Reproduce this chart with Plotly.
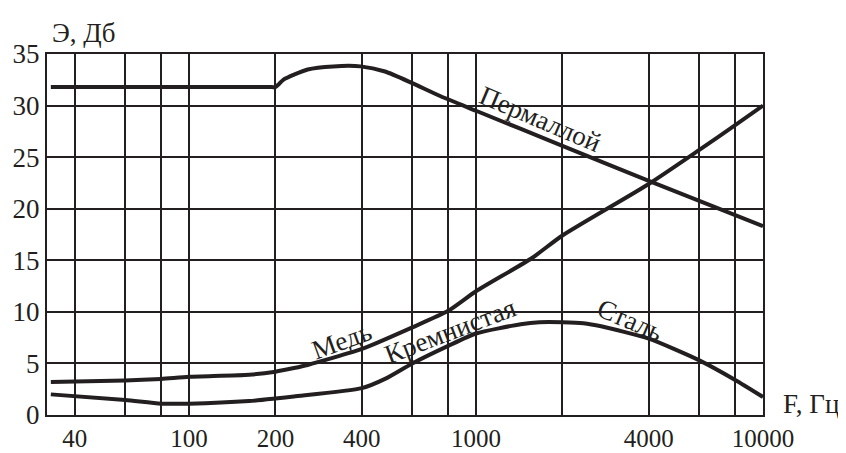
import math
import plotly.graph_objects as go

# ---- data ----
perm_f = [33, 100, 190, 200, 206, 213, 259, 318, 396, 482, 597, 753, 1000, 2000, 4000, 10000]
perm_v = [31.8, 31.8, 31.8, 31.8, 32.1, 32.5, 33.5, 33.8, 33.8, 33.3, 32.2, 30.9, 29.5, 26.1, 22.7, 18.3]

copper_f = [33, 60, 80, 100, 162, 200, 232, 259, 400, 600, 800, 1000, 1563, 2000, 4000, 6000, 8000, 10000]
copper_v = [3.2, 3.35, 3.5, 3.7, 3.9, 4.2, 4.55, 4.85, 6.4, 8.5, 10.1, 12.0, 15.2, 17.4, 22.4, 25.7, 28.1, 30.0]

steel_f = [33, 60, 80, 100, 162, 200, 232, 400, 482, 600, 800, 1000, 1432, 1664, 2000, 2367, 2729, 4000, 6000, 8000, 10000]
steel_v = [2.0, 1.45, 1.1, 1.1, 1.35, 1.6, 1.8, 2.6, 3.5, 5.0, 6.7, 7.9, 8.8, 9.0, 9.0, 8.9, 8.6, 7.4, 5.3, 3.4, 1.75]

x_tickvals = [40, 60, 80, 100, 200, 400, 600, 800, 1000, 2000, 4000, 6000, 8000, 10000]
x_ticktext = ["40", "", "", "100", "200", "400", "", "", "1000", "", "4000", "", "", "10000"]
y_tickvals = [0, 5, 10, 15, 20, 25, 30, 35]
y_ticktext = ["0", "5", "10", "15", "20", "25", "30", "35"]

INK = "#231f20"
FONT = "Liberation Serif"
FS = 27

fig = go.Figure()
for fx, vy in [(perm_f, perm_v), (copper_f, copper_v), (steel_f, steel_v)]:
    fig.add_trace(go.Scatter(x=fx, y=vy, mode="lines",
                             line=dict(color=INK, width=4, shape="spline", smoothing=0.6),
                             showlegend=False, hoverinfo="skip"))

axis_common = dict(showgrid=True, gridcolor=INK, gridwidth=2, showline=True,
                   linecolor=INK, linewidth=2, mirror=True, ticks="", ticklen=0,
                   zeroline=False, automargin=False)

fig.update_xaxes(type="log", range=[math.log10(32), 4], tickvals=x_tickvals,
                 ticktext=x_ticktext, tickfont=dict(family=FONT, size=25, color=INK),
                 **axis_common)
fig.update_yaxes(range=[0, 35], tickvals=y_tickvals, ticktext=y_ticktext,
                 tickfont=dict(family=FONT, size=FS, color=INK), **axis_common)

def lab(text, x, y, angle=0, xanchor="center", yanchor="middle"):
    fig.add_annotation(text=text, xref="paper", yref="paper", x=x, y=y,
                       showarrow=False, textangle=angle, xanchor=xanchor, yanchor=yanchor,
                       font=dict(family=FONT, size=FS, color=INK))

lab("Э, Дб", 0.004, 1.057, xanchor="left")
lab("F, Гц", 1.025, 0.03, xanchor="left")
lab("Пермаллой", 0.689, 0.820, 23)
lab("Медь", 0.411, 0.205, -20)
lab("Кремнистая", 0.563, 0.234, -21)
lab("Сталь", 0.814, 0.262, 23)

# page has an 8px body margin, so the figure is sized to fill the remaining window
fig.update_layout(width=838, height=445, margin=dict(l=39, r=83, t=46, b=38),
                  plot_bgcolor="white", paper_bgcolor="white")

fig.write_html("out.html")
